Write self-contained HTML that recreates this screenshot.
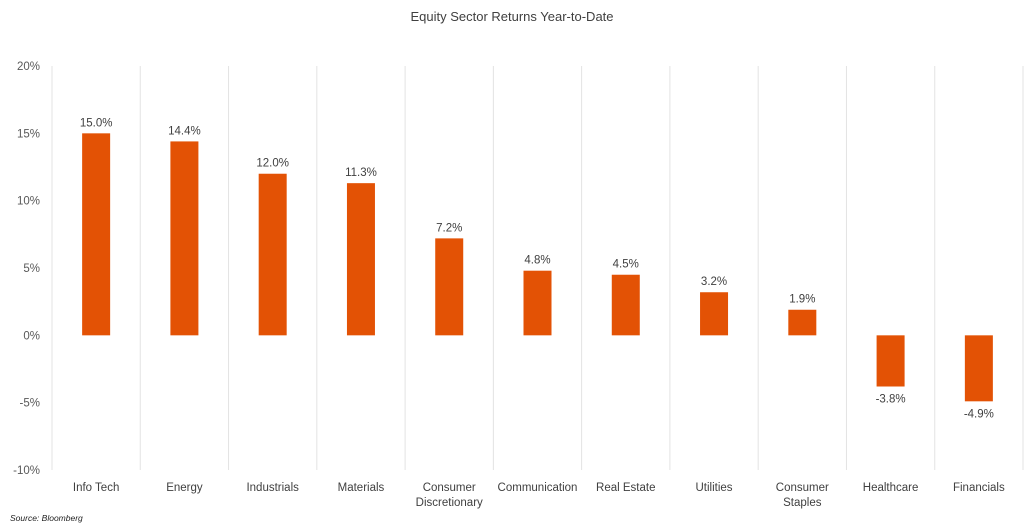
<!DOCTYPE html>
<html><head><meta charset="utf-8"><style>
body{margin:0;background:#fff;}
svg{display:block;font-family:"Liberation Sans",sans-serif;}
</style></head><body>
<svg id="chart" width="1024" height="526" viewBox="0 0 1024 526">
<text x="512" y="21" text-anchor="middle" font-size="13" fill="#404040">Equity Sector Returns Year-to-Date</text>
<g id="grid"></g><g id="yaxis"></g><g id="bars"></g><g id="xaxis"></g>
<text x="10" y="521" font-size="8.5" font-style="italic" fill="#222">Source: Bloomberg</text>
</svg>
<script>
const categories=[["Info Tech"],["Energy"],["Industrials"],["Materials"],["Consumer","Discretionary"],["Communication"],["Real Estate"],["Utilities"],["Consumer","Staples"],["Healthcare"],["Financials"]];
const values=[15.0,14.4,12.0,11.3,7.2,4.8,4.5,3.2,1.9,-3.8,-4.9];
const yTicks=[20,15,10,5,0,-5,-10];
const NS="http://www.w3.org/2000/svg";
const L=52,R=1023,T=66,B=470,yMin=-10,yMax=20;
const bw=(R-L)/categories.length;
const y=v=>T+(yMax-v)/(yMax-yMin)*(B-T);
const x=i=>L+bw*i;
function mk(tag,attrs,parent){const e=document.createElementNS(NS,tag);for(const k in attrs)e.setAttribute(k,attrs[k]);document.getElementById(parent).appendChild(e);return e;}
for(let i=0;i<=categories.length;i++){
 const g=mk("line",{x1:x(i),x2:x(i),y1:T,y2:B,stroke:"#e3e3e3","stroke-width":1},"grid");
 
 
}
yTicks.forEach(t=>{
 const e=mk("text",{x:40,y:y(t)+4,"text-anchor":"end","font-size":11.5,fill:"#595959"},"yaxis");
 e.textContent=t+"%";
 
 
});
values.forEach((v,i)=>{
 const cx=x(i)+bw/2;
 const r=mk("rect",{x:cx-14,y:Math.min(y(v),y(0)),width:28,height:Math.abs(y(v)-y(0)),fill:"#E35205"},"bars");
 
 
 const ly=v>=0?y(v)-7:y(v)+16;
 const t=mk("text",{x:cx,y:ly,"text-anchor":"middle","font-size":11.5,fill:"#404040"},"bars");
 t.textContent=v.toFixed(1)+"%";
 
 
 categories[i].forEach((line,j)=>{
  const c=mk("text",{x:cx,y:491+j*15,"text-anchor":"middle","font-size":11.5,fill:"#404040"},"xaxis");
  c.textContent=line;
  
  
 });
});
</script>
</body></html>
